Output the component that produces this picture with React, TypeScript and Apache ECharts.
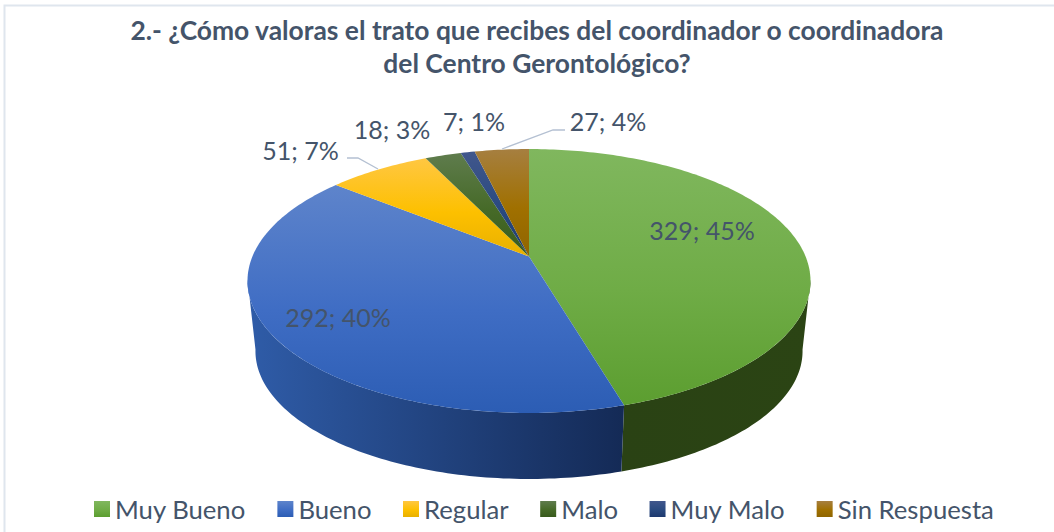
import React, { useEffect, useRef } from "react";
import * as echarts from "echarts";

const titleLines = [
  "2.- ¿Cómo valoras el trato que recibes del coordinador o coordinadora",
  "del Centro Gerontológico?",
];
const categories = ["Muy Bueno", "Bueno", "Regular", "Malo", "Muy Malo", "Sin Respuesta"];
const counts = [329, 292, 51, 18, 7, 27];
const percents = [45, 40, 7, 3, 1, 4];

const TEXT = "#44546a";
const FONT = "Lato";
const topColors = [
  ["#80b75e", "#6fac46", "#5c9e30"],
  ["#5e84cb", "#3f6dc4", "#2c5db4"],
  ["#ffc742", "#fdc000", "#e8b000"],
  ["#5f7c4d", "#466a28", "#385a1c"],
  ["#41578c", "#2a4a80", "#1d396f"],
  ["#a67f40", "#a07000", "#8f6500"],
];
const wallColors: string[][] = [
  ["#2a4214", "#2b4414"],
  ["#2f5ca8", "#142a56"],
  ["#7f6000", "#7f6000"],
  ["#2a4214", "#2a4214"],
  ["#142a56", "#142a56"],
  ["#664700", "#664700"],
];
const labelPlacement = [
  { x: 702, y: 230 },
  { x: 338, y: 317 },
  { x: 300.5, y: 150 },
  { x: 392, y: 129 },
  { x: 474, y: 121 },
  { x: 608, y: 121 },
];
const leaders: (number[][] | null)[] = [
  null,
  null,
  [[347, 158], [358, 158], [378, 169]],
  null,
  null,
  [[565, 130], [553, 130], [502, 149]],
];

const total = counts.reduce((a, b) => a + b, 0);
const PERSPECTIVE = 0.1857;
const upper = { cx: 529, cy: 256.5, a: 276.6, b: 127.4 };
const lower = { cx: 529, cy: 327.3, a: 268.8, b: 123.5 };

const project = (rim: typeof upper, deg: number) => {
  const t = (deg * Math.PI) / 180;
  const X = Math.sin(t);
  const Y = -Math.cos(t);
  const d = 1 - PERSPECTIVE * Y;
  return [rim.cx + (rim.a * X) / d, rim.cy + (rim.b * Y) / d];
};
const arcPoints = (rim: typeof upper, from: number, to: number) => {
  const pts: number[][] = [];
  const n = Math.max(2, Math.ceil(Math.abs(to - from)));
  for (let i = 0; i <= n; i++) pts.push(project(rim, from + ((to - from) * i) / n));
  return pts;
};
const sliceRange = (i: number) => {
  const before = counts.slice(0, i).reduce((a, b) => a + b, 0);
  return [(before / total) * 360, ((before + counts[i]) / total) * 360];
};
const vGrad = (c: string[]) =>
  new echarts.graphic.LinearGradient(0, 0, 0, 1, [
    { offset: 0, color: c[0] },
    { offset: 0.55, color: c[1] },
    { offset: 1, color: c[2] },
  ]);
const hGrad = (c: string[]) =>
  new echarts.graphic.LinearGradient(0, 0, 1, 0, [
    { offset: 0, color: c[0] },
    { offset: 1, color: c[1] },
  ]);

export default function App() {
  const ref = useRef<HTMLDivElement>(null);
  useEffect(() => {
    document.body.style.margin = "0";
    const chart = echarts.init(ref.current!, undefined, { renderer: "svg" });

    const wallSeries = {
      type: "custom",
      name: "walls",
      coordinateSystem: "none",
      silent: true,
      z: 1,
      data: counts,
      renderItem: (p: any) => {
        const [s, e] = sliceRange(p.dataIndex);
        const from = Math.max(s, 100);
        const to = Math.min(e, 260);
        if (to <= from) return { type: "group", children: [] };
        const pts = [...arcPoints(upper, from, to), ...arcPoints(lower, to, from)];
        return {
          type: "polygon",
          shape: { points: pts },
          style: { fill: hGrad(wallColors[p.dataIndex]) },
        };
      },
    };

    const topSeries = categories.map((name, idx) => ({
      type: "custom",
      name,
      coordinateSystem: "none",
      silent: true,
      z: 2,
      itemStyle: { color: vGrad(topColors[idx]) },
      data: [counts[idx]],
      renderItem: () => {
        const [s, e] = sliceRange(idx);
        const pts = [[upper.cx, upper.cy], ...arcPoints(upper, s, e)];
        return {
          type: "polygon",
          shape: { points: pts },
          style: { fill: vGrad(topColors[idx]) },
        };
      },
    }));

    const labelSeries = {
      type: "custom",
      name: "labels",
      coordinateSystem: "none",
      silent: true,
      z: 3,
      data: counts,
      renderItem: (p: any) => {
        const i = p.dataIndex;
        const children: any[] = [
          {
            type: "text",
            style: {
              x: labelPlacement[i].x,
              y: labelPlacement[i].y,
              text: `${counts[i]}; ${percents[i]}%`,
              fill: TEXT,
              font: `25px ${FONT}`,
              align: "center",
              verticalAlign: "middle",
            },
          },
        ];
        const l = leaders[i];
        if (l) {
          children.push({
            type: "polyline",
            shape: { points: l },
            style: { stroke: "#b4c0d2", lineWidth: 1.3, fill: "none" },
          });
        }
        return { type: "group", children };
      },
    };

    chart.setOption({
      animation: false,
      backgroundColor: "#ffffff",
      title: {
        text: titleLines.join("\n"),
        left: 532,
        top: 8,
        textAlign: "center",
        textStyle: {
          color: TEXT,
          fontFamily: FONT,
          fontWeight: "bold",
          fontSize: 26.4,
          lineHeight: 33,
        },
      },
      legend: {
        data: categories,
        left: 89,
        top: 491,
        icon: "rect",
        itemWidth: 16,
        itemHeight: 16,
        itemGap: 31.5,
        textStyle: { color: TEXT, fontFamily: FONT, fontSize: 25.7 },
      },
      graphic: [
        {
          type: "rect",
          silent: true,
          z: -1,
          shape: { x: 4.5, y: 5.5, width: 1100, height: 600 },
          style: { fill: "none", stroke: "#dfe6ee", lineWidth: 2 },
        },
      ],
      series: [wallSeries, ...topSeries, labelSeries],
    } as any);
    return () => chart.dispose();
  }, []);
  return <div ref={ref} style={{ width: 1054, height: 532 }} />;
}
